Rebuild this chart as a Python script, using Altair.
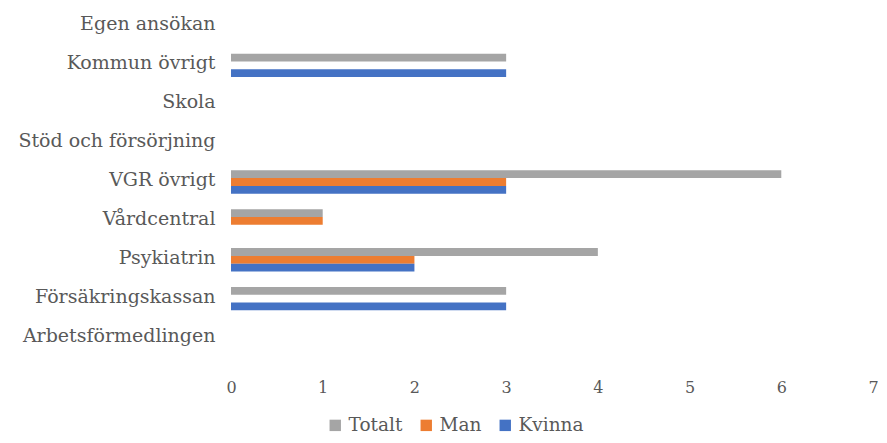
import altair as alt
import pandas as pd

categories = ["Egen ansökan", "Kommun övrigt", "Skola", "Stöd och försörjning",
              "VGR övrigt", "Vårdcentral", "Psykiatrin", "Försäkringskassan",
              "Arbetsförmedlingen"]
series = ["Totalt", "Man", "Kvinna"]
totalt = [0, 3, 0, 0, 6, 1, 4, 3, 0]
man = [0, 0, 0, 0, 3, 1, 2, 0, 0]
kvinna = [0, 3, 0, 0, 3, 0, 2, 3, 0]
colors = ["#A5A5A5", "#ED7D31", "#4472C4"]
x_ticks = [0, 1, 2, 3, 4, 5, 6, 7]

rows = []
for s, vals in zip(series, [totalt, man, kvinna]):
    for c, v in zip(categories, vals):
        rows.append({"Kategori": c, "Serie": s, "Antal": v})
df = pd.DataFrame(rows)

FONT = "DejaVu Serif"
TXT = "#595959"

chart = alt.Chart(df).transform_filter(alt.datum.Antal > 0).mark_bar().encode(
    y=alt.Y("Kategori:N", sort=categories,
            scale=alt.Scale(domain=categories, paddingInner=0.4, paddingOuter=0.2),
            axis=alt.Axis(title=None, domain=False, ticks=False, labelPadding=16,
                          labelOffset=-2, labelLimit=400,
                          labelFont=FONT, labelFontSize=19, labelColor=TXT)),
    yOffset=alt.YOffset("Serie:N", sort=series,
                        scale=alt.Scale(domain=series, paddingInner=0, paddingOuter=0)),
    x=alt.X("Antal:Q", scale=alt.Scale(domain=[0, 7], nice=False),
            axis=alt.Axis(title=None, values=x_ticks, grid=False, domain=False, ticks=False,
                          labelFlush=False,
                          labelPadding=22, labelFont=FONT, labelFontSize=16,
                          labelColor=TXT, format="d")),
    color=alt.Color("Serie:N", sort=series,
                    scale=alt.Scale(domain=series, range=colors),
                    legend=alt.Legend(title=None, orient="none", direction="horizontal",
                                      legendX=95, legendY=409, symbolType="square",
                                      symbolSize=130, symbolStrokeWidth=0,
                                      labelFont=FONT, labelFontSize=18.5, labelColor=TXT,
                                      columnPadding=14, labelOffset=4)),
).properties(
    width=642, height=350,
    autosize=alt.AutoSizeParams(type="none"),
    padding={"left": 223, "top": -1, "right": 5, "bottom": 77},
).configure(background="white", font=FONT).configure_view(stroke=None)

chart.save("out.html", embed_options={"renderer": "svg", "actions": False})
